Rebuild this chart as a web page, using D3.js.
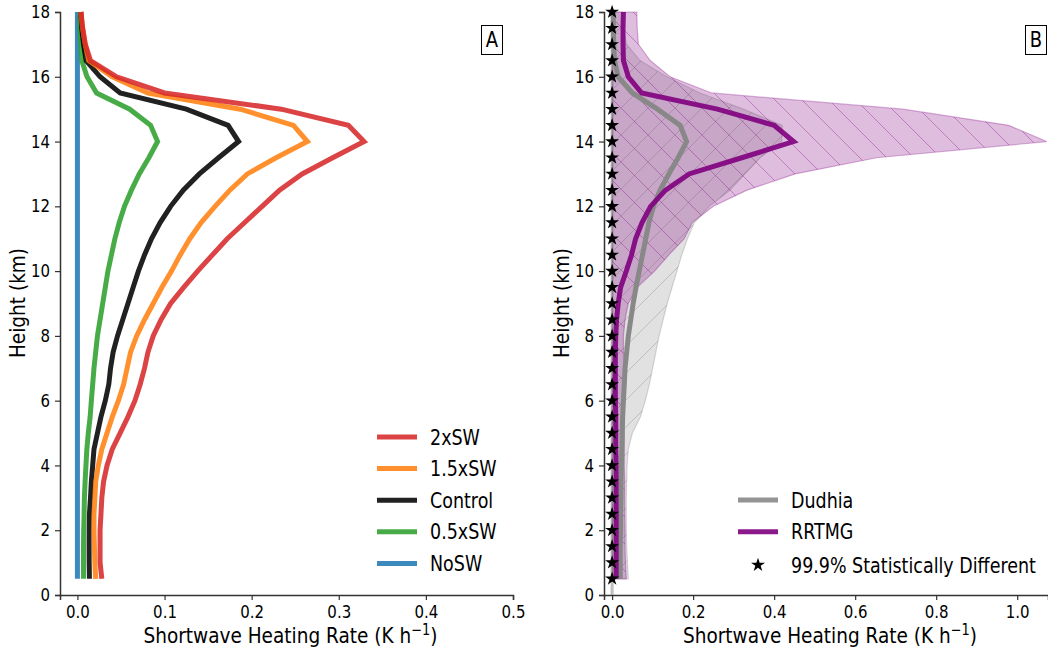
<!DOCTYPE html>
<html>
<head>
<meta charset="utf-8">
<script src="https://cdn.jsdelivr.net/npm/d3@7"></script>
<style>
  body { margin: 0; background: #fff; }
  text { font-family: "DejaVu Sans", sans-serif; fill: #000; }
</style>
</head>
<body>
<div id="chart"></div>
<script>
// heights (km) of the model levels
const heights = [0.5, 1, 1.5, 2, 2.5, 3, 3.5, 4, 4.5, 5, 5.5, 6, 6.5, 7, 7.5, 8, 8.5, 9,
                 9.5, 10, 10.5, 11, 11.5, 12, 12.5, 13, 13.5, 14, 14.5, 15, 15.5, 16, 16.5, 17, 17.5, 18];

// Panel A: shortwave heating rate (K/h) per experiment
const sw2x = [0.028, 0.026, 0.026, 0.026, 0.027, 0.028, 0.030, 0.034, 0.040, 0.049, 0.058, 0.066,
              0.072, 0.077, 0.081, 0.087, 0.096, 0.107, 0.122, 0.138, 0.155, 0.172, 0.192, 0.212,
              0.232, 0.258, 0.293, 0.329, 0.311, 0.234, 0.100, 0.045, 0.015, 0.009, 0.006, 0.004];
const sw15x = [0.021, 0.020, 0.0195, 0.019, 0.019, 0.020, 0.021, 0.024, 0.028, 0.034, 0.040, 0.047,
               0.053, 0.057, 0.061, 0.068, 0.077, 0.087, 0.097, 0.108, 0.118, 0.129, 0.142, 0.158,
               0.175, 0.195, 0.228, 0.264, 0.248, 0.187, 0.081, 0.040, 0.013, 0.009, 0.006, 0.004];
const control = [0.0138, 0.0135, 0.0134, 0.0135, 0.0138, 0.015, 0.016, 0.0175, 0.019, 0.023, 0.027, 0.032,
                 0.036, 0.038, 0.041, 0.046, 0.052, 0.058, 0.064, 0.070, 0.077, 0.085, 0.095, 0.107,
                 0.1215, 0.140, 0.162, 0.185, 0.173, 0.125, 0.049, 0.026, 0.010, 0.007, 0.005, 0.004];
const sw05x = [0.007, 0.007, 0.007, 0.0072, 0.0077, 0.008, 0.0088, 0.0098, 0.0108, 0.0125, 0.0146, 0.016,
               0.0175, 0.019, 0.021, 0.023, 0.026, 0.029, 0.032, 0.035, 0.039, 0.043, 0.048, 0.054,
               0.062, 0.071, 0.082, 0.092, 0.084, 0.060, 0.022, 0.011, 0.005, 0.004, 0.003, 0.003];
const noSW = [0, 0, 0, 0, 0, 0, 0, 0, 0, 0, 0, 0, 0, 0, 0, 0, 0, 0,
              0, 0, 0, 0, 0, 0, 0, 0, 0, 0, 0, 0, 0, 0, 0, 0, 0, 0];

const seriesNamesA = ['2xSW', '1.5xSW', 'Control', '0.5xSW', 'NoSW'];
const seriesColorsA = ['#d62728', '#ff7f0e', '#000000', '#2ca02c', '#1f77b4'];

// Panel B: scheme means and ranges
const dudhia = [0.020, 0.020, 0.020, 0.021, 0.021, 0.022, 0.022, 0.023, 0.024, 0.025, 0.026, 0.028,
                0.030, 0.032, 0.036, 0.040, 0.046, 0.052, 0.059, 0.067, 0.075, 0.083, 0.091, 0.102,
                0.1185, 0.140, 0.163, 0.184, 0.168, 0.112, 0.050, 0.015, 0.006, 0.004, 0.003, 0.003];
const dudhiaHigh = [0.040, 0.038, 0.036, 0.035, 0.035, 0.035, 0.036, 0.037, 0.040, 0.050, 0.070, 0.082,
                    0.092, 0.100, 0.108, 0.116, 0.126, 0.136, 0.148, 0.160, 0.172, 0.186, 0.203, 0.240,
                    0.291, 0.328, 0.365, 0.419, 0.420, 0.324, 0.217, 0.135, 0.069, 0.036, 0.027, 0.025];
const rrtmg = [0.010, 0.010, 0.010, 0.010, 0.010, 0.010, 0.010, 0.010, 0.009, 0.009, 0.009, 0.008,
               0.008, 0.008, 0.008, 0.009, 0.011, 0.015, 0.021, 0.035, 0.048, 0.058, 0.074, 0.095,
               0.132, 0.190, 0.320, 0.448, 0.400, 0.260, 0.073, 0.040, 0.028, 0.027, 0.027, 0.028];
const rrtmgHigh = [0.035, 0.033, 0.032, 0.032, 0.031, 0.031, 0.031, 0.030, 0.030, 0.030, 0.029, 0.029,
                   0.029, 0.030, 0.028, 0.028, 0.032, 0.040, 0.062, 0.105, 0.140, 0.178, 0.198, 0.250,
                   0.333, 0.452, 0.653, 1.073, 0.979, 0.719, 0.246, 0.143, 0.094, 0.065, 0.062, 0.061];
const rangeLow = [0, 0, 0, 0, 0, 0, 0, 0, 0, 0, 0, 0, 0, 0, 0, 0, 0, 0,
                  0, 0, 0, 0, 0, 0, 0, 0, 0, 0, 0, 0, 0, 0, 0, 0, 0, 0];

const xTicksA = [0, 0.1, 0.2, 0.3, 0.4, 0.5];
const xTicksB = [0, 0.2, 0.4, 0.6, 0.8, 1.0];
const yTicks = [0, 2, 4, 6, 8, 10, 12, 14, 16, 18];

const CHART_WIDTH = 1048;
const CHART_HEIGHT = 653;
const STRETCH = 1.18; // the original figure text is drawn a bit tall

const svg = d3.select('#chart')
    .append('svg')
    .attr('width', CHART_WIDTH)
    .attr('height', CHART_HEIGHT);

// Scales
const yScale = d3.scaleLinear().domain([0, 18]).range([595, 12]);
const xScaleA = d3.scaleLinear().domain([-0.02, 0.5]).range([60, 513]);
const xScaleB = d3.scaleLinear().domain([-0.02, 1.076]).range([604, 1048]);

// tall text helper
function label(x, y, str, size, anchor) {
    return svg.append('text')
        .attr('transform', `translate(${x}, ${y}) scale(1, ${STRETCH})`)
        .attr('text-anchor', anchor || 'start')
        .attr('font-size', size)
        .text(str);
}

// Hatch patterns
const defs = svg.append('defs');
function hatch(id, dir, color) {
    const s = 27;
    const p = defs.append('pattern')
        .attr('id', id)
        .attr('patternUnits', 'userSpaceOnUse')
        .attr('width', s)
        .attr('height', s);
    const d = dir === 'back'
        ? `M-3,-3L${s + 3},${s + 3}M-3,${s - 3}L3,${s + 3}M${s - 3},-3L${s + 3},3`
        : `M-3,${s + 3}L${s + 3},-3M-3,3L3,-3M${s - 3},${s + 3}L${s + 3},${s - 3}`;
    p.append('path').attr('d', d).attr('stroke', color).attr('stroke-width', 1).attr('fill', 'none');
}
hatch('hatchPurple', 'back', 'rgba(128,0,128,0.35)');
hatch('hatchGray', 'fwd', 'rgba(110,110,110,0.3)');

function drawAxes(xScale, xTicks, x0, tag) {
    const xAxis = d3.axisBottom(xScale)
        .tickValues(xTicks)
        .tickFormat(d3.format('.1f'))
        .tickSizeOuter(0)
        .tickSize(5)
        .tickPadding(4);
    const gx = svg.append('g')
        .attr('class', 'x-axis')
        .attr('transform', 'translate(0, 595)')
        .call(xAxis);

    const yAxis = d3.axisLeft(yScale)
        .tickValues(yTicks)
        .tickFormat(d3.format('d'))
        .tickSizeOuter(0)
        .tickSize(5)
        .tickPadding(5);
    const gy = svg.append('g')
        .attr('class', 'y-axis')
        .attr('transform', `translate(${x0}, 0)`)
        .call(yAxis);

    [gx, gy].forEach(g => {
        g.select('.domain').attr('stroke', '#333').attr('stroke-width', 1.5);
        g.selectAll('.tick line').attr('stroke', '#333').attr('stroke-width', 1.2);
        g.selectAll('.tick text').attr('font-size', 15).attr('fill', '#000')
            .attr('font-family', '"DejaVu Sans", sans-serif')
            .attr('transform', `scale(1, ${STRETCH})`);
    });

    const xr = xScale.range();
    const t = label((xr[0] + xr[1]) / 2 + 4, 643, 'Shortwave Heating Rate (K h', 18.5, 'middle');
    t.append('tspan').attr('dy', -7).attr('font-size', 13).text('\u22121');
    t.append('tspan').attr('dy', 7).text(')');

    svg.append('text')
        .attr('transform', `translate(${x0 - 35}, 303) rotate(-90) scale(1, ${STRETCH})`)
        .attr('text-anchor', 'middle')
        .attr('font-size', 18.5)
        .text('Height (km)');

    const bx = tag === 'A' ? 492 : 1036;
    svg.append('rect')
        .attr('x', bx - 10.5).attr('y', 25.5)
        .attr('width', 21).attr('height', 29)
        .attr('fill', '#fff').attr('stroke', '#000').attr('stroke-width', 1);
    label(bx, 47, tag, 18, 'middle');
}

// Panel A
drawAxes(xScaleA, xTicksA, 60, 'A');

const seriesA = [sw2x, sw15x, control, sw05x, noSW];
const lineA = vals => d3.line()
    .x((h, i) => xScaleA(vals[i]))
    .y(h => yScale(h))(heights);

// draw NoSW first so red ends on top like the reference
seriesA.slice().reverse().forEach((vals, k) => {
    const i = seriesA.length - 1 - k;
    svg.append('path')
        .attr('d', lineA(vals))
        .attr('fill', 'none')
        .attr('stroke', seriesColorsA[i])
        .attr('stroke-opacity', 0.87)
        .attr('stroke-width', 5);
});

// Legend A
seriesNamesA.forEach((name, i) => {
    const ly = 437 + i * 31.6;
    svg.append('line')
        .attr('x1', 377).attr('x2', 417)
        .attr('y1', ly).attr('y2', ly)
        .attr('stroke', seriesColorsA[i])
        .attr('stroke-opacity', 0.87)
        .attr('stroke-width', 5);
    label(430, ly + 7.5, name, 17.5);
});

// Panel B
const gB = svg.append('g');
const areaB = (low, high) => d3.area()
    .y(h => yScale(h))
    .x0((h, i) => xScaleB(low[i]))
    .x1((h, i) => xScaleB(high[i]))(heights);

// Dudhia range
gB.append('path').attr('d', areaB(rangeLow, dudhiaHigh))
    .attr('fill', 'rgb(128,128,128)').attr('fill-opacity', 0.24)
    .attr('stroke', 'rgb(128,128,128)').attr('stroke-opacity', 0.3).attr('stroke-width', 1.2);
gB.append('path').attr('d', areaB(rangeLow, dudhiaHigh))
    .attr('fill', 'url(#hatchGray)');

// RRTMG range
gB.append('path').attr('d', areaB(rangeLow, rrtmgHigh))
    .attr('fill', 'rgb(128,0,128)').attr('fill-opacity', 0.26)
    .attr('stroke', 'rgb(128,0,128)').attr('stroke-opacity', 0.3).attr('stroke-width', 1.2);
gB.append('path').attr('d', areaB(rangeLow, rrtmgHigh))
    .attr('fill', 'url(#hatchPurple)');

drawAxes(xScaleB, xTicksB, 604, 'B');

// zero line
svg.append('line')
    .attr('x1', xScaleB(0)).attr('x2', xScaleB(0))
    .attr('y1', yScale(0)).attr('y2', yScale(18))
    .attr('stroke', 'rgb(128,128,128)').attr('stroke-opacity', 0.5).attr('stroke-width', 3);

const lineB = vals => d3.line()
    .x((h, i) => xScaleB(vals[i]))
    .y(h => yScale(h))(heights);

svg.append('path').attr('d', lineB(dudhia))
    .attr('fill', 'none').attr('stroke', '#888888').attr('stroke-width', 5);
svg.append('path').attr('d', lineB(rrtmg))
    .attr('fill', 'none').attr('stroke', '#800080').attr('stroke-opacity', 0.9).attr('stroke-width', 5);

// significance stars
const star = d3.symbol().type(d3.symbolStar).size(60);
svg.append('g').selectAll('path')
    .data(heights)
    .enter()
    .append('path')
    .attr('d', star)
    .attr('transform', h => `translate(${xScaleB(0)}, ${yScale(h)})`)
    .attr('fill', '#000');

// Legend B
const legB = [
    { name: 'Dudhia', color: '#888888' },
    { name: 'RRTMG', color: '#800080' }
];
legB.forEach((d, i) => {
    const ly = 500 + i * 31.7;
    svg.append('line')
        .attr('x1', 738).attr('x2', 778)
        .attr('y1', ly).attr('y2', ly)
        .attr('stroke', d.color).attr('stroke-opacity', 0.9)
        .attr('stroke-width', 5);
    label(791, ly + 7.5, d.name, 17.5);
});
svg.append('path')
    .attr('d', star)
    .attr('transform', 'translate(758, 565)')
    .attr('fill', '#000');
label(791, 565 + 7.5, '99.9% Statistically Different', 17.5);
</script>
</body>
</html>
